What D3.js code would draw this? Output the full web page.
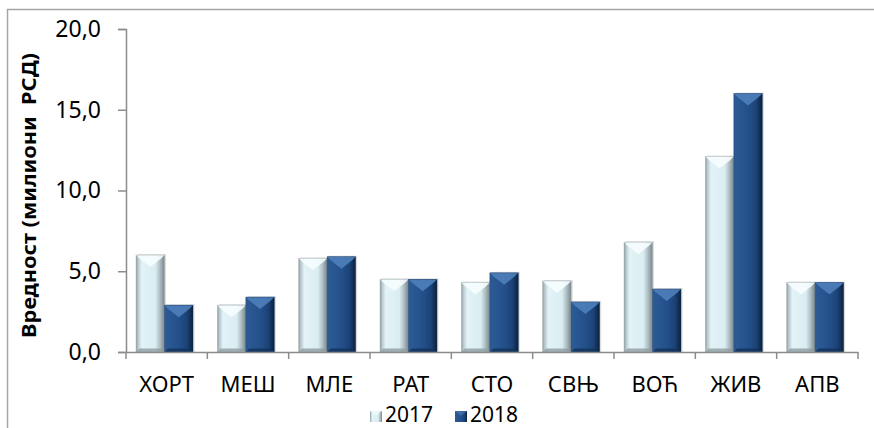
<!DOCTYPE html>
<html>
<head>
<meta charset="utf-8">
<script src="https://cdn.jsdelivr.net/npm/d3@7"></script>
<style>
  html, body { margin: 0; padding: 0; background: #fff; }
  svg { display: block; }
  text { font-family: "Noto Sans", "Open Sans", sans-serif; fill: #000; }
</style>
</head>
<body>
<svg id="chart" width="874" height="428"></svg>
<script>
const categories = ["ХОРТ", "МЕШ", "МЛЕ", "РАТ", "СТО", "СВЊ", "ВОЋ", "ЖИВ", "АПВ"];
const years = ["2017", "2018"];
const values2017 = [6.0, 2.9, 5.8, 4.5, 4.3, 4.4, 6.8, 12.1, 4.3];
const values2018 = [2.9, 3.4, 5.9, 4.5, 4.9, 3.1, 3.9, 16.0, 4.3];
const yTicks = [0, 5, 10, 15, 20];
const yTitle = "Вредност (милиони  РСД)";

const svg = d3.select("#chart");
const plot = { left: 126, right: 858, top: 29, bottom: 352 };

// outer frame (cropped at bottom/right)
svg.append("rect")
  .attr("x", 7.5).attr("y", 9.5).attr("width", 880).attr("height", 440)
  .attr("fill", "#fff").attr("stroke", "#a6a6a6").attr("stroke-width", 1.5);

const y = d3.scaleLinear().domain([0, 20]).range([plot.bottom, plot.top]);
const x0 = d3.scaleBand().domain(categories).range([plot.left, plot.right]).padding(0);
const x1 = d3.scaleBand().domain(years).range([10, 67]).padding(0);

const defs = svg.append("defs");
function hGrad(id, stops) {
  const g = defs.append("linearGradient").attr("id", id)
    .attr("x1", "0%").attr("x2", "100%").attr("y1", "0%").attr("y2", "0%");
  stops.forEach(s => g.append("stop").attr("offset", s[0]).attr("stop-color", s[1]));
}
hGrad("g2017", [["0%", "#8f9ea3"], ["8%", "#bccbd0"], ["20%", "#e3f3f8"], ["68%", "#d9edf2"], ["84%", "#aebec3"], ["100%", "#76868b"]]);
hGrad("g2018", [["0%", "#2c5a92"], ["12%", "#2b5993"], ["50%", "#24508a"], ["78%", "#1c4378"], ["100%", "#0b213d"]]);

const style = {
  "2017": { fill: "url(#g2017)", top: "#f6fdff", bottom: "#8e9da1", edge: "#9fadb1" },
  "2018": { fill: "url(#g2018)", top: "#4f7fba", bottom: "#12325a", edge: "#183a66" }
};

const data = [];
categories.forEach((c, i) => {
  data.push({ cat: c, year: "2017", v: values2017[i] });
  data.push({ cat: c, year: "2018", v: values2018[i] });
});

const barsG = svg.append("g");
const groups = barsG.selectAll("g.bar").data(data).enter().append("g").attr("class", "bar");

groups.each(function(d) {
  const g = d3.select(this);
  const bx = x0(d.cat) + x1(d.year);
  const bw = x1.bandwidth();
  const by = y(d.v);
  const bh = y(0) - by;
  const s = style[d.year];
  g.append("rect").attr("x", bx + 1.5).attr("y", by - 1).attr("width", bw).attr("height", bh + 1)
    .attr("fill", "#9a9a9a").attr("opacity", 0.35);
  g.append("rect").attr("x", bx).attr("y", by).attr("width", bw).attr("height", bh)
    .attr("fill", s.fill);
  const b = 3.5, v = Math.min(12, bh / 2);
  g.append("polygon")
    .attr("points", [[bx, by], [bx + bw, by], [bx + bw - b, by + b], [bx + bw / 2, by + v], [bx + b, by + b]].map(p => p.join(",")).join(" "))
    .attr("fill", s.top).attr("opacity", 0.9);
  g.append("polygon")
    .attr("points", [[bx, by + bh], [bx + bw, by + bh], [bx + bw - b, by + bh - b], [bx + b, by + bh - b]].map(p => p.join(",")).join(" "))
    .attr("fill", s.bottom).attr("opacity", 0.8);
  g.append("rect").attr("x", bx).attr("y", by).attr("width", bw).attr("height", bh)
    .attr("fill", "none").attr("stroke", s.edge).attr("stroke-width", 0.6).attr("opacity", 0.7);
});

// y axis
const yAxis = d3.axisLeft(y).tickValues(yTicks).tickSize(8).tickPadding(17)
  .tickFormat(d => d3.format(".1f")(d).replace(".", ","));
const yg = svg.append("g").attr("transform", `translate(${plot.left},0)`).call(yAxis);
yg.select(".domain").attr("stroke", "#8c8c8c").attr("stroke-width", 1.5);
yg.selectAll(".tick line").attr("stroke", "#8c8c8c").attr("stroke-width", 1.5);
yg.selectAll(".tick text").attr("font-size", 23).attr("font-family", "Noto Sans").attr("fill", "#000");

// x axis
const xAxis = d3.axisBottom(x0).tickSize(0).tickPadding(24);
const xg = svg.append("g").attr("transform", `translate(0,${plot.bottom})`).call(xAxis);
xg.select(".domain").attr("stroke", "#8c8c8c").attr("stroke-width", 1.5);
xg.selectAll(".tick text").attr("font-size", 22).attr("font-family", "Noto Sans").attr("fill", "#000")
  .attr("dy", "0.71em");
const bounds = categories.map(c => x0(c)).concat([plot.right]);
xg.selectAll("line.bound").data(bounds).enter().append("line").attr("class", "bound")
  .attr("x1", d => d).attr("x2", d => d).attr("y1", 0).attr("y2", 7)
  .attr("stroke", "#8c8c8c").attr("stroke-width", 1.5);

// y title
svg.append("text")
  .attr("transform", `translate(36,${(plot.top + plot.bottom) / 2 + 5}) rotate(-90)`)
  .attr("text-anchor", "middle")
  .attr("font-size", 19).attr("font-weight", "bold")
  .style("white-space", "pre")
  .attr("textLength", 285).attr("lengthAdjust", "spacingAndGlyphs")
  .text(yTitle);

// legend
const legend = svg.append("g").attr("transform", "translate(370,0)");
const legItems = [{ y: "2017", x: 0 }, { y: "2018", x: 85 }];
legItems.forEach(it => {
  const lg = legend.append("g").attr("transform", `translate(${it.x},0)`);
  lg.append("rect").attr("x", 0).attr("y", 411).attr("width", 12).attr("height", 11)
    .attr("fill", style[it.y].fill);
  lg.append("polygon").attr("points", "0,411 12,411 6,416").attr("fill", style[it.y].top).attr("opacity", 0.6);
  lg.append("text").attr("x", 15).attr("y", 422).attr("font-size", 21).text(it.y);
});
</script>
</body>
</html>
